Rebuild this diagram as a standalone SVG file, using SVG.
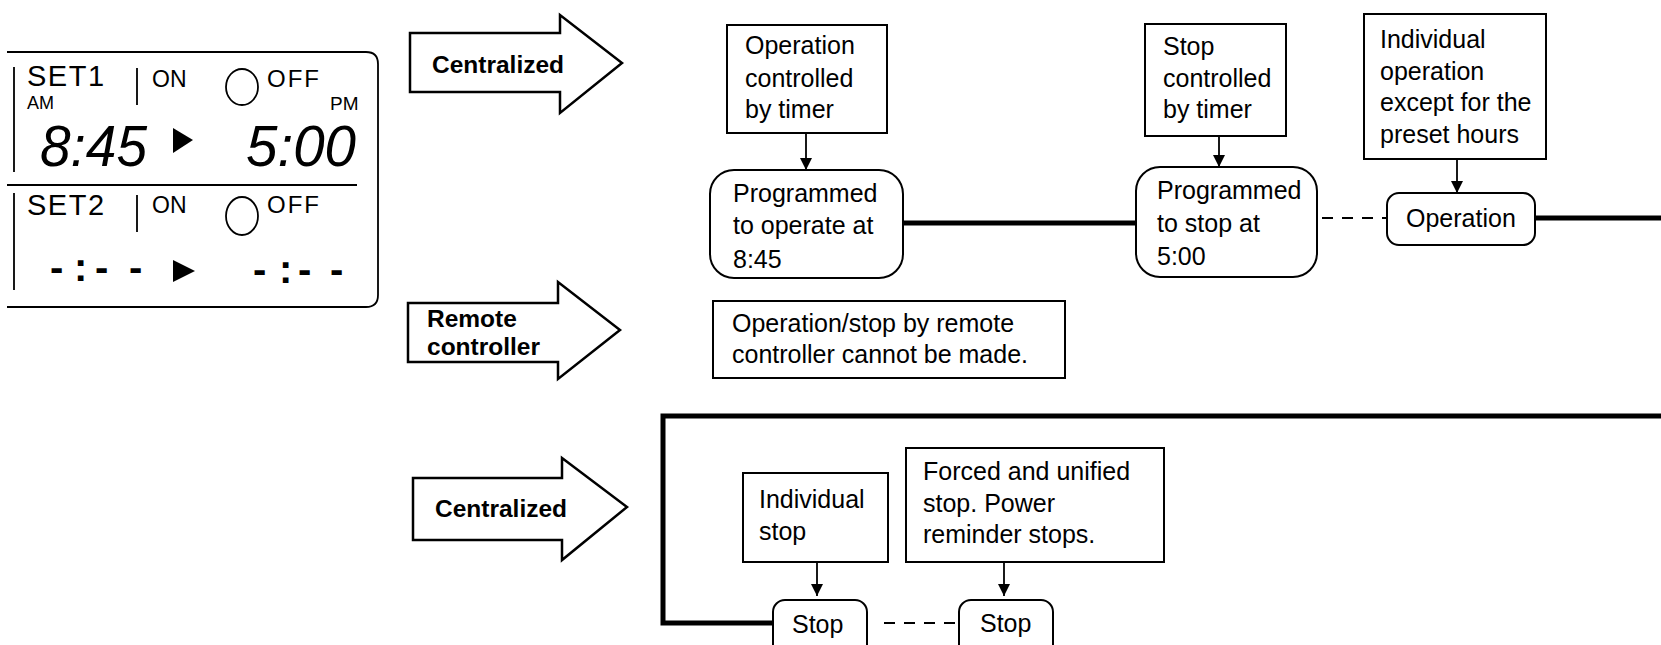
<svg xmlns="http://www.w3.org/2000/svg" width="1661" height="645" viewBox="0 0 1661 645">
<style>
.t{font-family:"Liberation Sans",Arial,sans-serif;font-size:25px;fill:#000}
.b{font-family:"Liberation Sans",Arial,sans-serif;font-size:24.5px;font-weight:bold;fill:#000}
.box{fill:#fff;stroke:#000;stroke-width:2}
.arr{fill:#fff;stroke:#000;stroke-width:2.5;stroke-linejoin:miter}
.thick{fill:none;stroke:#000;stroke-width:5}
.thin{fill:none;stroke:#000;stroke-width:1.8}
.dash{fill:none;stroke:#000;stroke-width:2;stroke-dasharray:11 9}
.lcd{font-family:"Liberation Sans",Arial,sans-serif;fill:#000}
.seg{font-family:"Liberation Sans",Arial,sans-serif;font-style:italic;font-size:58px;fill:#000}
.dsh{font-family:"Liberation Sans",Arial,sans-serif;font-weight:bold;font-size:40px;fill:#000}
</style>
<defs>
<marker id="ah" viewBox="0 0 10 10" refX="10" refY="5" markerWidth="12" markerHeight="12" markerUnits="userSpaceOnUse" orient="auto">
<path d="M0,0 L10,5 L0,10 Z" fill="#000"/>
</marker>
</defs>
<rect width="1661" height="645" fill="#fff"/>

<g id="lcd-panel">
<path class="thin" d="M7,52 H366 Q378,52 378,64 V295 Q378,307 366,307 H7"/>
<path class="thin" d="M14,67 V172 M14,193 V290 M7,185 H357 M137,68 V105 M137,195 V232"/>
<text class="lcd" x="27" y="86" font-size="29" letter-spacing="1.5">SET1</text>
<text class="lcd" x="152" y="87" font-size="23">ON</text>
<ellipse cx="242" cy="87" rx="16" ry="18" fill="none" stroke="#000" stroke-width="1.8"/>
<text class="lcd" x="267" y="87" font-size="24" letter-spacing="2">OFF</text>
<text class="lcd" x="27" y="109" font-size="18">AM</text>
<text class="lcd" x="330" y="110" font-size="19">PM</text>
<text class="seg" x="40" y="166" textLength="107" lengthAdjust="spacingAndGlyphs">8:45</text>
<path d="M173,128 L193,140 L173,153 Z" fill="#000"/>
<text class="seg" x="246" y="166" textLength="110" lengthAdjust="spacingAndGlyphs">5:00</text>
<text class="lcd" x="27" y="215" font-size="29" letter-spacing="1.5">SET2</text>
<text class="lcd" x="152" y="213" font-size="23">ON</text>
<ellipse cx="242" cy="216" rx="16" ry="19" fill="none" stroke="#000" stroke-width="1.8"/>
<text class="lcd" x="267" y="213" font-size="24" letter-spacing="2">OFF</text>
<text class="dsh" x="50 74 95 129" y="281">-:--</text>
<path d="M173,260 L195,271 L173,282 Z" fill="#000"/>
<text class="dsh" x="253 279 298 330" y="283">-:--</text>
</g>

<g id="arrow-centralized-1">
<path class="arr" d="M410,33 L560,33 L560,15 L622,63 L560,113 L560,92 L410,92 Z"/>
<text class="b" x="432" y="73">Centralized</text>
</g>
<g id="arrow-remote">
<path class="arr" d="M408,303 L558,303 L558,282 L620,330 L558,379 L558,362 L408,362 Z"/>
<text class="b" x="427" y="327">Remote</text>
<text class="b" x="427" y="355">controller</text>
</g>
<g id="arrow-centralized-2">
<path class="arr" d="M413,478 L562,478 L562,458 L627,507 L562,560 L562,540 L413,540 Z"/>
<text class="b" x="435" y="517">Centralized</text>
</g>

<g id="connectors">
<path class="thick" d="M903,223 H1136"/>
<path class="dash" d="M1322,218 H1387"/>
<path class="thick" d="M1535,218 H1661"/>
<path class="thick" d="M1661,416 H663 V623 H773"/>
<path class="dash" d="M884,623 H959"/>
<path class="thin" marker-end="url(#ah)" d="M806,133 V170"/>
<path class="thin" marker-end="url(#ah)" d="M1219,136 V167"/>
<path class="thin" marker-end="url(#ah)" d="M1457,159 V193"/>
<path class="thin" marker-end="url(#ah)" d="M817,562 V596"/>
<path class="thin" marker-end="url(#ah)" d="M1004,562 V596"/>
</g>

<g id="n-op-timer">
<rect class="box" x="727" y="25" width="160" height="108"/>
<text class="t" x="745" y="54">Operation</text>
<text class="t" x="745" y="87">controlled</text>
<text class="t" x="745" y="118">by timer</text>
</g>
<g id="n-prog-operate">
<rect class="box" x="710" y="170" width="193" height="108" rx="24"/>
<text class="t" x="733" y="202">Programmed</text>
<text class="t" x="733" y="234">to operate at</text>
<text class="t" x="733" y="268">8:45</text>
</g>
<g id="n-stop-timer">
<rect class="box" x="1145" y="24" width="141" height="112"/>
<text class="t" x="1163" y="55">Stop</text>
<text class="t" x="1163" y="87">controlled</text>
<text class="t" x="1163" y="118">by timer</text>
</g>
<g id="n-prog-stop">
<rect class="box" x="1136" y="167" width="181" height="110" rx="24"/>
<text class="t" x="1157" y="199">Programmed</text>
<text class="t" x="1157" y="232">to stop at</text>
<text class="t" x="1157" y="265">5:00</text>
</g>
<g id="n-individual-op">
<rect class="box" x="1364" y="14" width="182" height="145"/>
<text class="t" x="1380" y="48">Individual</text>
<text class="t" x="1380" y="80">operation</text>
<text class="t" x="1380" y="111">except for the</text>
<text class="t" x="1380" y="143">preset hours</text>
</g>
<g id="n-operation">
<rect class="box" x="1387" y="193" width="148" height="52" rx="12"/>
<text class="t" x="1406" y="227">Operation</text>
</g>
<g id="n-remote-note">
<rect class="box" x="713" y="301" width="352" height="77"/>
<text class="t" x="732" y="332">Operation/stop by remote</text>
<text class="t" x="732" y="363">controller cannot be made.</text>
</g>
<g id="n-individual-stop">
<rect class="box" x="743" y="473" width="145" height="89"/>
<text class="t" x="759" y="508">Individual</text>
<text class="t" x="759" y="540">stop</text>
</g>
<g id="n-forced-stop">
<rect class="box" x="906" y="448" width="258" height="114"/>
<text class="t" x="923" y="480">Forced and unified</text>
<text class="t" x="923" y="512">stop. Power</text>
<text class="t" x="923" y="543">reminder stops.</text>
</g>
<g id="n-stop-1">
<rect class="box" x="773" y="600" width="94" height="60" rx="12"/>
<text class="t" x="792" y="633">Stop</text>
</g>
<g id="n-stop-2">
<rect class="box" x="959" y="600" width="94" height="60" rx="12"/>
<text class="t" x="980" y="632">Stop</text>
</g>
</svg>
